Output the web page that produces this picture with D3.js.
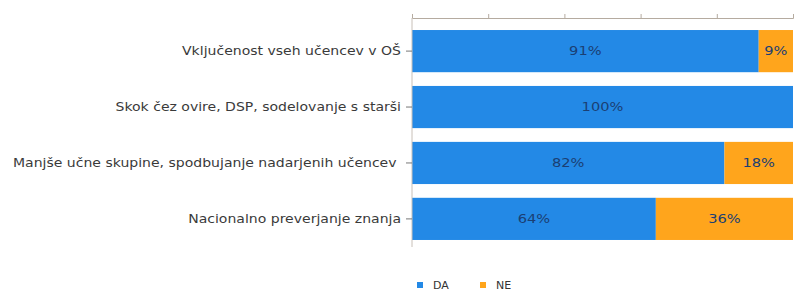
<!DOCTYPE html>
<html>
<head>
<meta charset="utf-8">
<script src="https://cdn.jsdelivr.net/npm/d3@7.9.0/dist/d3.min.js"></script>
<style>
  html, body { margin: 0; padding: 0; background: #fff; }
  svg { display: block; font-family: "DejaVu Sans", Verdana, sans-serif; }
</style>
</head>
<body>
<svg id="chart" width="794" height="293"></svg>
<script>
const categories = [
  'Vključenost vseh učencev v OŠ',
  'Skok čez ovire, DSP, sodelovanje s starši',
  'Manjše učne skupine, spodbujanje nadarjenih učencev ',
  'Nacionalno preverjanje znanja'
];
const daValues = [91, 100, 82, 64];
const neValues = [9, 0, 18, 36];
const seriesNames = ['DA', 'NE'];
const xTicks = [0, 20, 40, 60, 80, 100];

const colors = { DA: '#2389e6', NE: '#ffa51c' };

const margin = { top: 18, left: 412, right: 1 };
const width = 794;
const plotBottom = 247;
const stretch = 1.17; // text in the original is rendered a bit wider

const svg = d3.select('#chart');

const x = d3.scaleLinear().domain([0, 100]).range([margin.left, width - margin.right]);
const y = d3.scaleBand()
  .domain(categories)
  .range([margin.top, 252])
  .paddingInner(0.246)
  .paddingOuter(0.215);

const rows = categories.map((c, i) => ({ cat: c, DA: daValues[i], NE: neValues[i] }));
const stacked = d3.stack().keys(seriesNames)(rows);

// bars
stacked.forEach((layer) => {
  const key = layer.key;
  const g = svg.append('g');
  layer.forEach((d) => {
    const v = d[1] - d[0];
    if (v <= 0) return;
    g.append('rect')
      .attr('x', x(d[0]))
      .attr('y', y(d.data.cat))
      .attr('width', x(d[1]) - x(d[0]))
      .attr('height', y.bandwidth())
      .attr('fill', colors[key]);
    const cx = (x(d[0]) + x(d[1])) / 2;
    const cy = y(d.data.cat) + y.bandwidth() / 2;
    g.append('text')
      .attr('transform', `translate(${cx},${cy}) scale(${stretch},1)`)
      .attr('dy', '0.35em')
      .attr('text-anchor', 'middle')
      .attr('font-size', 12.5)
      .attr('fill', '#1b3f73')
      .text(v + '%');
  });
});

// top axis
const topAxis = svg.append('g').attr('transform', `translate(0,${margin.top})`)
  .call(d3.axisTop(x).tickValues(xTicks).tickSize(4).tickFormat(''));
topAxis.select('.domain').attr('stroke', '#b5aba0');
topAxis.selectAll('.tick line').attr('stroke', '#b5aba0');

// left axis
const leftAxis = svg.append('g').attr('transform', `translate(${margin.left},0)`)
  .call(d3.axisLeft(y).tickSize(6).tickPadding(4));
leftAxis.select('.domain').attr('d', `M0,${margin.top}V${plotBottom}`).attr('stroke', '#c8c0b8');
leftAxis.selectAll('.tick line').attr('stroke', '#777');
leftAxis.selectAll('.tick text')
  .attr('x', -11 / stretch)
  .attr('transform', `scale(${stretch},1)`)
  .attr('font-size', 12)
  .attr('fill', '#3a3a3a')
  .style('white-space', 'pre')
  .attr('font-family', '"DejaVu Sans", Verdana, sans-serif');

// legend
const legend = svg.append('g').attr('transform', 'translate(417,285)');
seriesNames.forEach((s, i) => {
  const lg = legend.append('g').attr('transform', `translate(${i * 63},0)`);
  lg.append('rect').attr('x', 0).attr('y', -3).attr('width', 6).attr('height', 6).attr('fill', colors[s]);
  lg.append('text').attr('x', 16).attr('y', 0).attr('dy', '0.35em')
    .attr('font-size', 11).attr('fill', '#333').text(s);
});
</script>
</body>
</html>
